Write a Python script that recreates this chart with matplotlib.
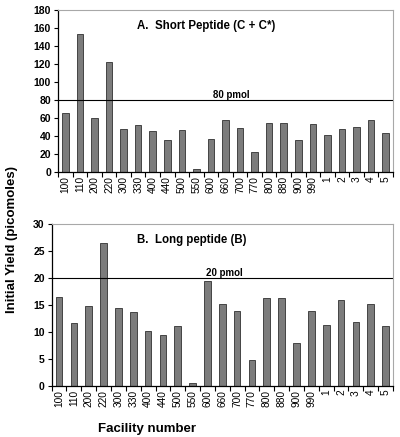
import matplotlib.pyplot as plt
from matplotlib.ticker import FixedLocator, NullFormatter

plt.rcParams['font.family'] = ['Liberation Sans', 'DejaVu Sans']

facilities = ['100', '110', '200', '220', '300', '330', '400', '440', '500', '550',
              '600', '660', '700', '770', '800', '880', '900', '990', '1', '2', '3', '4', '5']
short_yield = [65.3, 153.3, 60.1, 122.5, 47.9, 52.0, 45.3, 35.3, 46.4, 3.0,
               36.7, 57.5, 49.0, 21.9, 54.2, 54.2, 36.0, 53.4, 41.6, 47.9, 49.7, 57.5, 43.0]
long_yield = [16.4, 11.7, 14.7, 26.5, 14.3, 13.6, 10.1, 9.3, 11.0, 0.5,
              19.4, 15.1, 13.9, 4.8, 16.2, 16.2, 7.9, 13.8, 11.2, 15.8, 11.8, 15.1, 11.0]
short_ref = 80
long_ref = 20


def draw_panel(ax, values, ymax, ystep, ref, title, title_x, ref_label, ref_x):
    x = list(range(len(facilities)))
    ax.bar(x, values, width=0.45, color='#7c7c7c', edgecolor='#303030', linewidth=0.6)
    ax.axhline(ref, color='black', linewidth=0.8)
    ax.set_xlim(-0.5, len(facilities) - 0.5)
    ax.set_ylim(0, ymax)
    ax.set_yticks(range(0, ymax + 1, ystep))
    ax.set_xticks(x)
    ax.set_xticklabels(facilities, rotation=90, fontsize=7.3)
    ax.xaxis.set_minor_locator(FixedLocator([i - 0.5 for i in range(len(facilities) + 1)]))
    ax.xaxis.set_minor_formatter(NullFormatter())
    ax.tick_params(axis='x', which='major', length=0, pad=3)
    ax.tick_params(axis='x', which='minor', length=3.5, width=0.8)
    ax.tick_params(axis='y', length=3, width=0.8, labelsize=7.5, pad=2)
    for lab in ax.get_yticklabels():
        lab.set_fontweight('bold')
    for s in ['top', 'right']:
        ax.spines[s].set_color('#a8a8a8')
        ax.spines[s].set_linewidth(0.8)
    for s in ['left', 'bottom']:
        ax.spines[s].set_linewidth(0.9)
    ax.text(title_x, 0.9, title, transform=ax.transAxes, ha='center', va='center',
            fontsize=8.3, fontweight='bold')
    ax.text(ref_x, ref, ref_label, transform=ax.get_yaxis_transform(), ha='center',
            va='bottom', fontsize=7, fontweight='bold')


fig = plt.figure(figsize=(4, 4.37), dpi=100)
ax1 = fig.add_axes([0.145, 0.6064, 0.8375, 0.37])
ax2 = fig.add_axes([0.129, 0.1174, 0.8535, 0.3706])

draw_panel(ax1, short_yield, 180, 20, short_ref, 'A.  Short Peptide (C + C*)', 0.442,
           '80 pmol', 0.517)
draw_panel(ax2, long_yield, 30, 5, long_ref, 'B.  Long peptide (B)', 0.41,
           '20 pmol', 0.505)

fig.text(0.03, 0.451, 'Initial Yield (picomoles)', rotation=90, ha='center', va='center',
         fontsize=9.5, fontweight='bold')
fig.text(0.367, 0.018, 'Facility number', ha='center', va='center',
         fontsize=9.5, fontweight='bold')

fig.savefig('out.png', dpi=100)
